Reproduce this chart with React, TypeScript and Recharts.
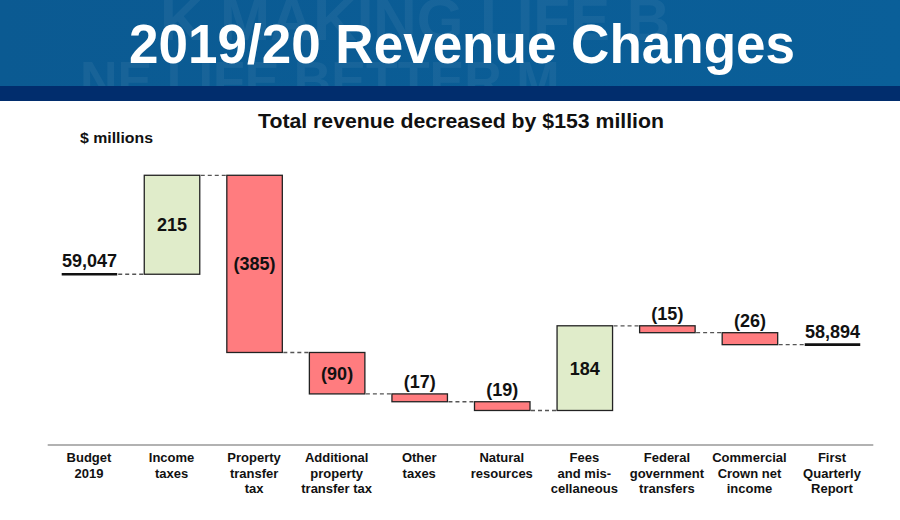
import React from 'react';
import { BarChart, Bar, XAxis, YAxis } from 'recharts';

const categories = [
  'Budget 2019',
  'Income taxes',
  'Property transfer tax',
  'Additional property transfer tax',
  'Other taxes',
  'Natural resources',
  'Fees and miscellaneous',
  'Federal government transfers',
  'Commercial Crown net income',
  'First Quarterly Report',
];
const tickLabelLines: string[][] = [
  ['Budget', '2019'],
  ['Income', 'taxes'],
  ['Property', 'transfer', 'tax'],
  ['Additional', 'property', 'transfer tax'],
  ['Other', 'taxes'],
  ['Natural', 'resources'],
  ['Fees', 'and mis-', 'cellaneous'],
  ['Federal', 'government', 'transfers'],
  ['Commercial', 'Crown net', 'income'],
  ['First', 'Quarterly', 'Report'],
];
const values = [59047, 215, -385, -90, -17, -19, 184, -15, -26, 58894];
const isTotal = [true, false, false, false, false, false, false, false, false, true];

const FONT = "'Liberation Sans', Arial, Helvetica, sans-serif";
const GREEN = '#e0ecca';
const RED = '#ff7c7f';

type Row = { name: string; range: [number, number]; value: number; total: boolean; up: boolean };

let running = 0;
const data: Row[] = categories.map((name, i) => {
  const v = values[i];
  if (isTotal[i]) {
    running = v;
    return { name, range: [v, v], value: v, total: true, up: true };
  }
  const start = running;
  const end = running + v;
  running = end;
  return { name, range: [Math.min(start, end), Math.max(start, end)], value: v, total: false, up: v >= 0 };
});

const W = 900;
const H = 520;
const M = { top: 149.5, right: 26.7, bottom: 15, left: 47.7 };
const BAND = (W - M.left - M.right) / categories.length;

const fmtTotal = (v: number) => v.toLocaleString('en-US');
const fmtDelta = (v: number) => (v < 0 ? `(${Math.abs(v)})` : `${v}`);

const BarShape = (props: any) => {
  const { x, y, width, height, payload, index } = props;
  const top = Math.min(y, y + height);
  const h = Math.abs(height);
  const row: Row = payload;
  const last = index === data.length - 1;
  let endY: number;
  const elems: React.ReactNode[] = [];
  if (row.total) {
    endY = top + h;
    elems.push(
      <line key="l" x1={x} x2={x + width} y1={endY} y2={endY} stroke="#111" strokeWidth={2.6} />
    );
    elems.push(
      <text key="t" x={x + width / 2} y={endY - 7} textAnchor="middle" fontFamily={FONT} fontWeight="bold" fontSize={18} fill="#111">
        {fmtTotal(row.value)}
      </text>
    );
  } else {
    endY = row.up ? top : top + h;
    elems.push(
      <rect key="r" x={x} y={top} width={width} height={h} fill={row.up ? GREEN : RED} stroke="#222" strokeWidth={1.3} />
    );
    const inside = h > 30;
    elems.push(
      <text
        key="t"
        x={x + width / 2}
        y={inside ? top + h / 2 + 6.5 : top - 6}
        textAnchor="middle"
        fontFamily={FONT}
        fontWeight="bold"
        fontSize={18}
        fill="#111"
      >
        {fmtDelta(row.value)}
      </text>
    );
  }
  if (!last) {
    elems.push(
      <line key="c" x1={x + width + 1} x2={x + BAND - 1} y1={endY} y2={endY} stroke="#555" strokeWidth={1.3} strokeDasharray="4 3" />
    );
  }
  return <g>{elems}</g>;
};

const Tick = (props: any) => {
  const { x, y, index } = props;
  const lines = tickLabelLines[index] || [];
  return (
    <g>
      {lines.map((ln, i) => (
        <text key={i} x={x} y={y + 9 + i * 15.6} textAnchor="middle" fontFamily={FONT} fontWeight="bold" fontSize={13} fill="#111">
          {ln}
        </text>
      ))}
    </g>
  );
};

export default function App() {
  return (
    <div style={{ position: 'absolute', left: 0, top: 0, width: W, height: H, background: '#fff', overflow: 'hidden' }}>
      <div style={{ position: 'absolute', left: 0, top: 0 }}>
        <BarChart width={W} height={H} data={data} margin={M} barSize={55.5}>
          <XAxis
            dataKey="name"
            interval={0}
            height={60}
            tickLine={false}
            axisLine={{ stroke: '#999', strokeWidth: 1.6 }}
            tick={<Tick />}
          />
          <YAxis hide type="number" domain={[58676, 59318]} allowDataOverflow />
          <Bar dataKey="range" isAnimationActive={false} shape={<BarShape />} />
        </BarChart>
      </div>
      <svg width={W} height={160} style={{ position: 'absolute', left: 0, top: 0, pointerEvents: 'none' }}>
        <defs>
          <linearGradient id="hdr" x1="0" y1="0" x2="1" y2="0">
            <stop offset="0" stopColor="#0b5a92" />
            <stop offset="1" stopColor="#0a5f99" />
          </linearGradient>
          <clipPath id="hclip">
            <rect x={0} y={0} width={W} height={86} />
          </clipPath>
        </defs>
        <rect x={0} y={0} width={W} height={86} fill="url(#hdr)" />
        <g clipPath="url(#hclip)" fontFamily={FONT} fontWeight="bold" fill="#ffffff" opacity={0.05}>
          <text x={160} y={40} fontSize={60}>K MAKING LIFE B</text>
          <text x={80} y={98} fontSize={52}>NE LIFE BETTER M</text>
        </g>
        <rect x={0} y={86} width={W} height={15} fill="#012d6d" />
        <text
          x={462}
          y={63}
          textAnchor="middle"
          fontFamily={FONT}
          fontWeight="bold"
          fontSize={55}
          fill="#fff"
          textLength={666}
          lengthAdjust="spacingAndGlyphs"
        >
          2019/20 Revenue Changes
        </text>
        <text
          x={461}
          y={128}
          textAnchor="middle"
          fontFamily={FONT}
          fontWeight="bold"
          fontSize={20}
          fill="#111"
          textLength={406}
          lengthAdjust="spacingAndGlyphs"
        >
          Total revenue decreased by $153 million
        </text>
        <text x={80} y={143} fontFamily={FONT} fontWeight="bold" fontSize={14.5} fill="#111" textLength={73} lengthAdjust="spacingAndGlyphs">
          $ millions
        </text>
      </svg>
    </div>
  );
}
